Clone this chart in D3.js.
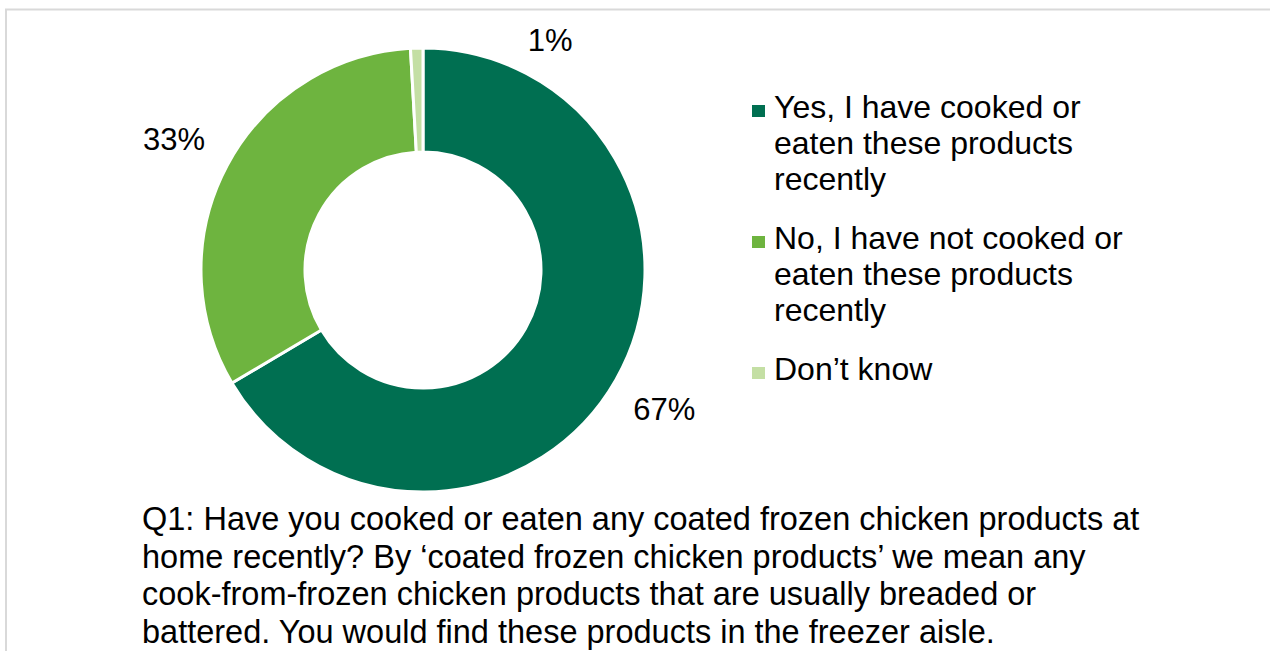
<!DOCTYPE html>
<html>
<head>
<meta charset="utf-8">
<script src="https://cdn.jsdelivr.net/npm/d3@7"></script>
<style>
  body { margin: 0; background: #fff; }
  text { font-family: "Liberation Sans", Arial, sans-serif; fill: #000; }
</style>
</head>
<body>
<div id="chart"></div>
<script>
// data
var categories = ['Yes, I have cooked or eaten these products recently',
                  'No, I have not cooked or eaten these products recently',
                  'Don\u2019t know'];
var values = [66.5, 32.6, 0.9];
var valueLabels = ['67%', '33%', '1%'];
var legendLines = [['Yes, I have cooked or', 'eaten these products', 'recently'],
                   ['No, I have not cooked or', 'eaten these products', 'recently'],
                   ['Don\u2019t know']];
var questionLines = ['Q1: Have you cooked or eaten any coated frozen chicken products at',
                     'home recently? By \u2018coated frozen chicken products\u2019 we mean any',
                     'cook-from-frozen chicken products that are usually breaded or',
                     'battered. You would find these products in the freezer aisle.'];
var colors = ['#006F51', '#6EB43F', '#C4DFA4'];

var W = 1270, H = 651;

var svg = d3.select('#chart').append('svg')
    .attr('width', W)
    .attr('height', H);

svg.append('rect').attr('width', W).attr('height', H).attr('fill', '#fff');

// frame lines (only top and left are inside the crop)
svg.append('line').attr('x1', 5).attr('x2', W).attr('y1', 9.5).attr('y2', 9.5)
    .attr('stroke', '#D9D9D9').attr('stroke-width', 2);
svg.append('line').attr('x1', 6).attr('x2', 6).attr('y1', 9).attr('y2', H)
    .attr('stroke', '#D9D9D9').attr('stroke-width', 2);

// donut
var cx = 423, cy = 270, rOuter = 222, rInner = 118;
var g = svg.append('g').attr('transform', 'translate(' + cx + ',' + cy + ')');

var pie = d3.pie().sort(null).value(function(d) { return d; });
var arc = d3.arc().innerRadius(rInner).outerRadius(rOuter);
var labelArc = d3.arc().innerRadius(280).outerRadius(280);

var arcs = pie(values);

g.selectAll('path')
    .data(arcs)
    .enter()
    .append('path')
    .attr('d', arc)
    .attr('fill', function(d, i) { return colors[i]; })
    .attr('stroke', '#fff')
    .attr('stroke-width', 3)
    .attr('stroke-linejoin', 'round');

g.selectAll('text.lbl')
    .data(arcs)
    .enter()
    .append('text')
    .attr('class', 'lbl')
    .attr('x', function(d) {
        var c = labelArc.centroid(d);
        // the tiny slice label was dragged aside in the original
        return d.data < 5 ? c[0] + 135 : c[0] - 2;
    })
    .attr('y', function(d) {
        var c = labelArc.centroid(d);
        return d.data < 5 ? c[1] + 50 : c[1] + 1;
    })
    .attr('text-anchor', 'middle')
    .attr('dominant-baseline', 'central')
    .style('font-size', '31px')
    .text(function(d, i) { return valueLabels[i]; });

// legend
var legY = [118, 249, 380];
var lineH = 36;
var legend = svg.append('g');
legendLines.forEach(function(lines, i) {
    legend.append('rect')
        .attr('x', 752).attr('y', legY[i] - 13)
        .attr('width', 13).attr('height', 12)
        .attr('fill', colors[i]);
    lines.forEach(function(t, j) {
        legend.append('text')
            .attr('x', 774)
            .attr('y', legY[i] + j * lineH)
            .style('font-size', '32px')
            .text(t);
    });
});

// question text
questionLines.forEach(function(t, j) {
    svg.append('text')
        .attr('x', 142)
        .attr('y', 530 + j * 37.5)
        .style('font-size', '32.5px')
        .text(t);
});
</script>
</body>
</html>
